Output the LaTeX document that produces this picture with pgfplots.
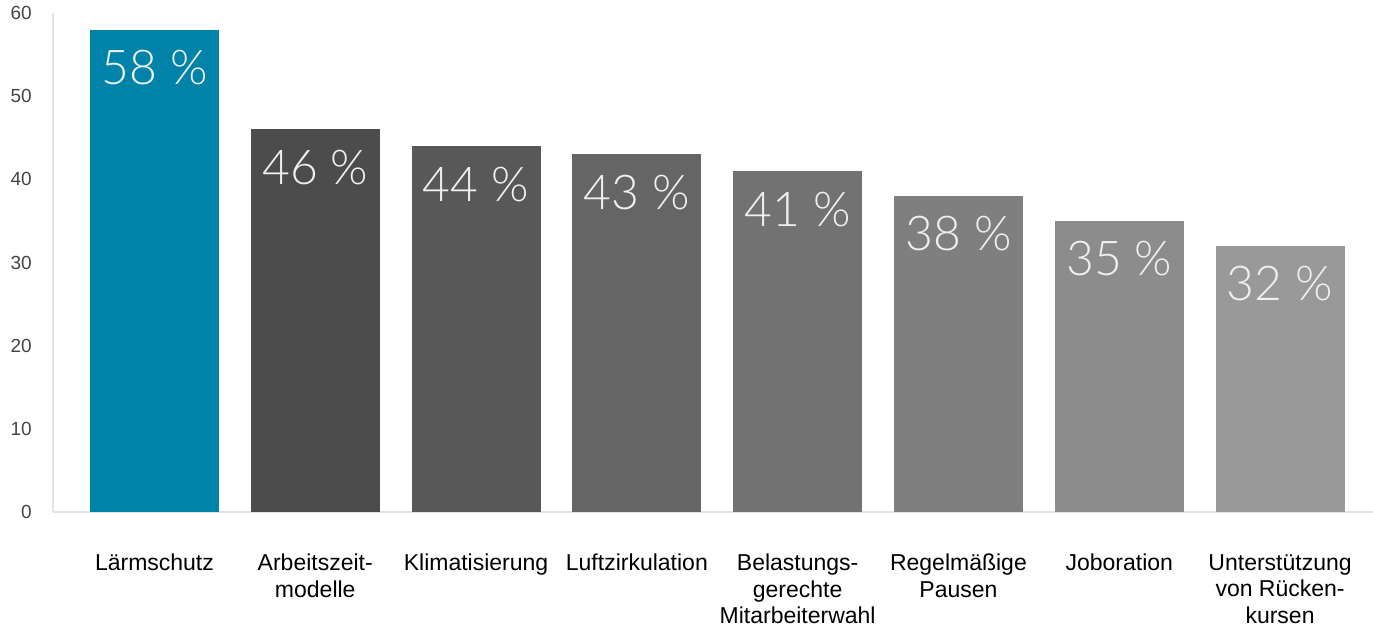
\documentclass[border=0pt]{standalone}
\usepackage{fontspec}
\setmainfont{Liberation Sans}
\newfontfamily\lightfont{Lato Light}
\usepackage{pgfplots}
\pgfplotsset{compat=1.18}

\definecolor{barblue}{HTML}{0083A9}
\definecolor{g1}{HTML}{4C4C4C}
\definecolor{g2}{HTML}{585858}
\definecolor{g3}{HTML}{656565}
\definecolor{g4}{HTML}{727272}
\definecolor{g5}{HTML}{7F7F7F}
\definecolor{g6}{HTML}{8C8C8C}
\definecolor{g7}{HTML}{999999}
\definecolor{axisgray}{HTML}{E2E2E2}
\definecolor{ticktext}{HTML}{444444}

\begin{document}
\begin{tikzpicture}
\path[use as bounding box] (0,0) rectangle (1373pt,628pt);
\begin{axis}[
    at={(53pt,116pt)}, anchor=south west,
    scale only axis,
    width=1320pt, height=499pt,
    xmin=-0.631, xmax=7.578,
    ymin=0, ymax=60,
    ybar, bar width=129pt, bar shift=0pt,
    axis lines*=left,
    axis line style={axisgray, line width=1.2pt},
    major tick length=0pt,
    ytick={0,10,20,30,40,50,60},
    xtick={0,1,2,3,4,5,6,7},
    xticklabels={Lärmschutz, {Arbeitszeit-\\modelle}, Klimatisierung, Luftzirkulation,
        {Belastungs-\\gerechte\\Mitarbeiterwahl}, {Regelmäßige\\Pausen}, Joboration,
        {Unterstützung\\von Rücken-\\kursen}},
    /pgf/number format/assume math mode=true,
    yticklabel style={anchor=east, inner sep=0pt, xshift=-21pt,
        font=\fontsize{19}{19}\selectfont, text=ticktext},
    xticklabel style={anchor=north, inner sep=0pt, yshift=-42pt, align=center,
        font=\fontsize{23}{26.5}\selectfont, text=black},
    nodes near coords={\pgfmathprintnumber{\pgfplotspointmeta} \%},
    every node near coord/.append style={anchor=base, inner sep=0pt, yshift=-55pt,
        font=\lightfont\fontsize{48}{48}\selectfont, text=white!94!black},
]
\addplot[fill=barblue, draw=none] coordinates {(0,58)};
\addplot[fill=g1, draw=none] coordinates {(1,46)};
\addplot[fill=g2, draw=none] coordinates {(2,44)};
\addplot[fill=g3, draw=none] coordinates {(3,43)};
\addplot[fill=g4, draw=none] coordinates {(4,41)};
\addplot[fill=g5, draw=none] coordinates {(5,38)};
\addplot[fill=g6, draw=none] coordinates {(6,35)};
\addplot[fill=g7, draw=none] coordinates {(7,32)};
\end{axis}
\end{tikzpicture}
\end{document}
